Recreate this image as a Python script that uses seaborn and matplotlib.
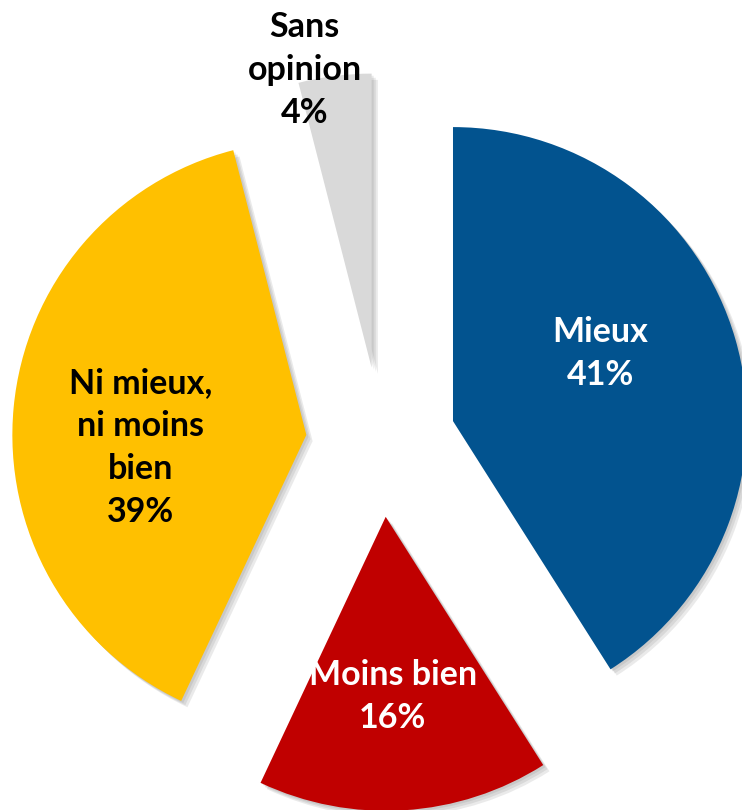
import matplotlib
matplotlib.use("Agg")
import matplotlib.pyplot as plt
import matplotlib.patheffects as pe
import seaborn as sns

sns.set_theme(style="white")
plt.rcParams['font.family'] = ['Lato', 'DejaVu Sans']

# data
labels = ["Mieux", "Moins bien", "Ni mieux,\nni moins\nbien", "Sans\nopinion"]
values = [41, 16, 39, 4]
colors = ["#02538F", "#C00000", "#FFC000", "#D9D9D9"]
text_colors = ["white", "white", "black", "black"]

# label positions (pie radius = 1, centre at origin)
label_pos = [(0.745, 0.30), (0.04, -0.867), (-0.818, -0.02), (-0.26, 1.265)]

fig = plt.figure(figsize=(7.42, 8.10), dpi=100)
ax = fig.add_axes([0, 0, 1, 1])

wedges, _ = ax.pie(values, colors=colors, startangle=90, counterclock=False,
                   explode=[0.255] * len(values), radius=1,
                   wedgeprops=dict(linewidth=0, edgecolor="none"))

shadow = [pe.SimplePatchShadow(offset=(o, -o), shadow_rgbFace="0.35", alpha=0.12)
          for o in (1.5, 3, 4.5)] + [pe.Normal()]
for w in wedges:
    w.set_path_effects(shadow)

for lab, v, (x, y), tc in zip(labels, values, label_pos, text_colors):
    ax.text(x, y, f"{lab}\n{v}%", ha="center", va="center", color=tc,
            fontsize=24.5, fontweight="bold", linespacing=1.42)

# pixel-matched limits: centre at (381, 442) px, radius 294 px
px = 294
ax.set_xlim(-381 / px, (742 - 381) / px)
ax.set_ylim(-(810 - 442) / px, 442 / px)
ax.set_aspect("auto")
ax.axis("off")

plt.savefig("out.png", dpi=100)
